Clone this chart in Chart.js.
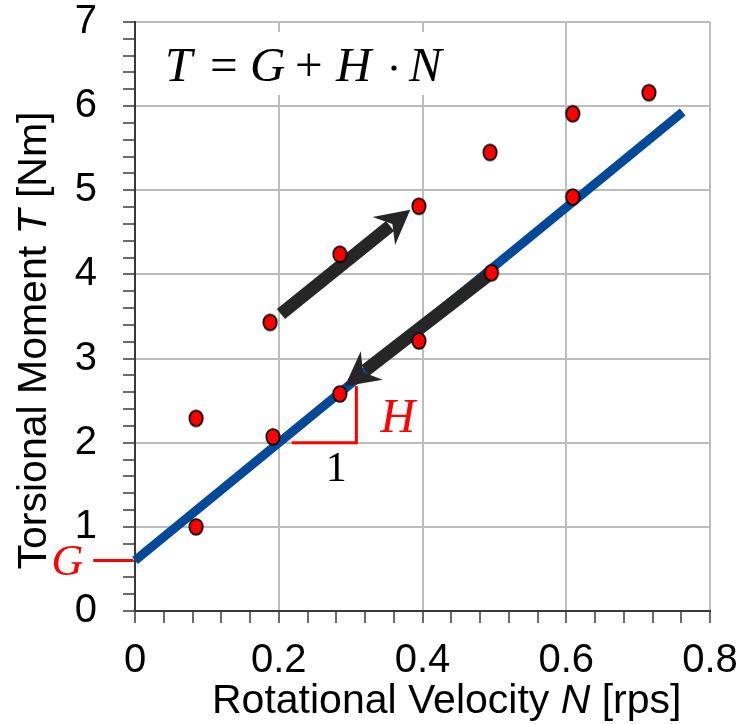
<!DOCTYPE html>
<html><head><meta charset="utf-8">
<script src="https://cdn.jsdelivr.net/npm/chart.js@4/dist/chart.umd.min.js"></script>
<style>html,body{margin:0;padding:0;background:#fff}#wrap{width:741px;height:724px;position:relative}</style>
</head><body><div id="wrap"><canvas id="c"></canvas></div>
<script>
// ---- data ----
const speedN  = [0.085, 0.085, 0.192, 0.285, 0.188, 0.285, 0.395, 0.496, 0.395, 0.494, 0.609, 0.609, 0.715];
const momentT = [1.00,  2.29,  2.07,  2.58,  3.43,  4.24,  4.81,  4.02,  3.21,  5.45,  5.91,  4.92,  6.16];
const fitN = [0, 0.762];
const fitT = [0.60, 5.93];
const arrowUpN = [0.203, 0.383],  arrowUpT = [3.53, 4.77];
const arrowDownN = [0.496, 0.292], arrowDownT = [4.02, 2.67];
const slopeN = [0.218, 0.308], slopeT = [2.0, 2.67];
const interceptN = [-0.058, 0];
const xTickLabels = ['0', '0.2', '0.4', '0.6', '0.8'];
const yTickLabels = ['0', '1', '2', '3', '4', '5', '6', '7'];
const xMajor = 0.2, xMinor = 0.04, yMajor = 1, yMinor = 0.2;

const SANS = '"Liberation Sans", Arial, sans-serif';
const SERIF = '"Liberation Serif", "Times New Roman", serif';

function makeDot() {
  const c = document.createElement('canvas');
  c.width = 18; c.height = 20;
  const g = c.getContext('2d');
  g.beginPath();
  g.ellipse(9, 10, 6.7, 7.9, 0, 0, Math.PI * 2);
  g.fillStyle = '#ff0000'; g.fill();
  g.lineWidth = 1.7; g.strokeStyle = '#000'; g.stroke();
  return c;
}

function isMajor(v, step) { const r = v / step; return Math.abs(r - Math.round(r)) < 1e-6; }

function buildTicks(max, step) {
  const out = []; const n = Math.round(max / step);
  for (let i = 0; i <= n; i++) out.push({ value: Math.round(i * step * 1000) / 1000 });
  return out;
}

function drawArrow(ctx, x0, y0, x1, y1) {
  const dx = x1 - x0, dy = y1 - y0, L = Math.hypot(dx, dy);
  const ux = dx / L, uy = dy / L, px = -uy, py = ux;
  const headLen = 34, halfW = 18, notch = 23, shaftW = 13;
  ctx.save();
  ctx.strokeStyle = '#262626'; ctx.fillStyle = '#262626';
  ctx.lineWidth = shaftW; ctx.lineCap = 'butt';
  ctx.beginPath();
  ctx.moveTo(x0, y0);
  ctx.lineTo(x1 - ux * (notch + 3), y1 - uy * (notch + 3));
  ctx.stroke();
  ctx.beginPath();
  ctx.moveTo(x1, y1);
  ctx.lineTo(x1 - ux * headLen + px * halfW, y1 - uy * headLen + py * halfW);
  ctx.lineTo(x1 - ux * notch, y1 - uy * notch);
  ctx.lineTo(x1 - ux * headLen - px * halfW, y1 - uy * headLen - py * halfW);
  ctx.closePath(); ctx.fill();
  ctx.restore();
}

function drawPieces(ctx, pieces, x, y) {
  for (const p of pieces) {
    ctx.font = p[1];
    ctx.fillText(p[0], x, y);
    x += ctx.measureText(p[0]).width;
  }
}
function piecesWidth(ctx, pieces) {
  let w = 0;
  for (const p of pieces) { ctx.font = p[1]; w += ctx.measureText(p[0]).width; }
  return w;
}

const annot = {
  id: 'annot',
  beforeDatasetsDraw(chart) {
    const { ctx, chartArea: a } = chart;
    ctx.save();
    ctx.fillStyle = '#fff';
    ctx.fillRect(a.left + 14, a.top + 10, 306, 63);
    ctx.fillStyle = '#000';
    ctx.textBaseline = 'alphabetic'; ctx.textAlign = 'left';
    const base = a.top + 59, L = a.left;
    const it = 'italic 49px ' + SERIF, up = '49px ' + SERIF;
    const parts = [['T', it, 30], ['=', up, 75], ['G', it, 115], ['+', up, 160], ['H', it, 201], ['N', it, 274]];
    for (const p of parts) { ctx.font = p[1]; ctx.fillText(p[0], L + p[2], base); }
    ctx.beginPath(); ctx.arc(L + 259, base - 13, 2.6, 0, Math.PI * 2); ctx.fill();
    ctx.restore();
  },
  afterDatasetDraw(chart, args) {
    if (args.index !== 1) return;
    const { ctx } = chart;
    const xs = chart.scales.x, ys = chart.scales.y;
    const X = v => xs.getPixelForValue(v), Y = v => ys.getPixelForValue(v);
    ctx.save();
    ctx.strokeStyle = '#ff0000'; ctx.lineWidth = 3; ctx.lineJoin = 'miter'; ctx.lineCap = 'butt';
    ctx.beginPath();
    ctx.moveTo(X(slopeN[0]), Y(slopeT[0]));
    ctx.lineTo(X(slopeN[1]), Y(slopeT[0]));
    ctx.lineTo(X(slopeN[1]), Y(slopeT[1]));
    ctx.stroke();
    ctx.beginPath();
    ctx.moveTo(X(interceptN[0]), Y(fitT[0]));
    ctx.lineTo(X(interceptN[1]) - 2, Y(fitT[0]));
    ctx.stroke();
    drawArrow(ctx, X(arrowUpN[0]), Y(arrowUpT[0]), X(arrowUpN[1]), Y(arrowUpT[1]));
    drawArrow(ctx, X(arrowDownN[0]), Y(arrowDownT[0]), X(arrowDownN[1]), Y(arrowDownT[1]));
    ctx.textBaseline = 'alphabetic';
    ctx.fillStyle = '#ff0000';
    ctx.font = 'italic 48px ' + SERIF; ctx.textAlign = 'left';
    ctx.fillText('H', X(slopeN[1]) + 24, Y(slopeT[0]) - 11);
    ctx.font = 'italic 44px ' + SERIF; ctx.textAlign = 'right';
    ctx.fillText('G', X(interceptN[0]) - 10, Y(fitT[0]) + 14);
    ctx.fillStyle = '#000';
    ctx.font = '42px ' + SERIF; ctx.textAlign = 'center';
    ctx.fillText('1', X(0.28), Y(slopeT[0]) + 38);
    ctx.restore();
  },
  afterDraw(chart) {
    const { ctx, chartArea: a } = chart;
    ctx.save();
    ctx.fillStyle = '#000'; ctx.textBaseline = 'alphabetic'; ctx.textAlign = 'left';
    const n = '41px ' + SANS, i = 'italic 41px ' + SANS;
    const xt = [['Rotational Velocity ', n], ['N', i], [' [rps]', n]];
    drawPieces(ctx, xt, a.left + 77, a.bottom + 102);
    const yt = [['Torsional Moment ', n], ['T', i], [' [Nm]', n]];
    const w = piecesWidth(ctx, yt);
    ctx.translate(46, (a.top + a.bottom) / 2 + 24);
    ctx.rotate(-Math.PI / 2);
    drawPieces(ctx, yt, -w / 2, 0);
    ctx.restore();
  }
};

const GRID = '#bdbdbd', AXIS = '#3a3a3a';

new Chart(document.getElementById('c'), {
  type: 'scatter',
  data: {
    datasets: [
      {
        label: 'measured',
        data: speedN.map((n, k) => ({ x: n, y: momentT[k] })),
        pointStyle: makeDot(),
        pointRadius: 8,
        showLine: false
      },
      {
        label: 'fit',
        type: 'line',
        data: fitN.map((n, k) => ({ x: n, y: fitT[k] })),
        borderColor: '#04489a',
        borderWidth: 9,
        borderCapStyle: 'butt',
        pointRadius: 0,
        fill: false,
        clip: false
      }
    ]
  },
  options: {
    responsive: true,
    maintainAspectRatio: false,
    animation: false,
    events: [],
    layout: { padding: 0 },
    plugins: { legend: { display: false }, tooltip: { enabled: false } },
    scales: {
      x: {
        type: 'linear', min: 0, max: 0.8,
        afterBuildTicks: s => { s.ticks = buildTicks(0.8, xMinor); },
        afterFit: s => { s.height = 113; s.paddingLeft = 0; s.paddingRight = 31; },
        grid: {
          color: c => isMajor(c.tick.value, xMajor) ? GRID : 'rgba(0,0,0,0)',
          lineWidth: 2, tickColor: AXIS, tickLength: 12, tickWidth: 1.5
        },
        border: { color: AXIS, width: 2 },
        ticks: {
          autoSkip: false, maxRotation: 0, padding: 16, color: '#000',
          font: { family: SANS, size: 40, lineHeight: 1.1 },
          callback: v => isMajor(v, xMajor) ? xTickLabels[Math.round(v / xMajor)] : ''
        }
      },
      y: {
        type: 'linear', min: 0, max: 7,
        afterBuildTicks: s => { s.ticks = buildTicks(7, yMinor); },
        afterFit: s => { s.width = 135; s.paddingTop = 22; s.paddingBottom = 0; },
        grid: {
          color: c => isMajor(c.tick.value, yMajor) ? GRID : 'rgba(0,0,0,0)',
          lineWidth: 2, tickColor: AXIS, tickLength: 12, tickWidth: 1.5
        },
        border: { color: AXIS, width: 2 },
        ticks: {
          autoSkip: false, padding: 26, color: '#000',
          font: { family: SANS, size: 40, lineHeight: 1.1 },
          callback: v => isMajor(v, yMajor) ? yTickLabels[Math.round(v / yMajor)] : ''
        }
      }
    }
  },
  plugins: [annot]
});
</script>
</body></html>
